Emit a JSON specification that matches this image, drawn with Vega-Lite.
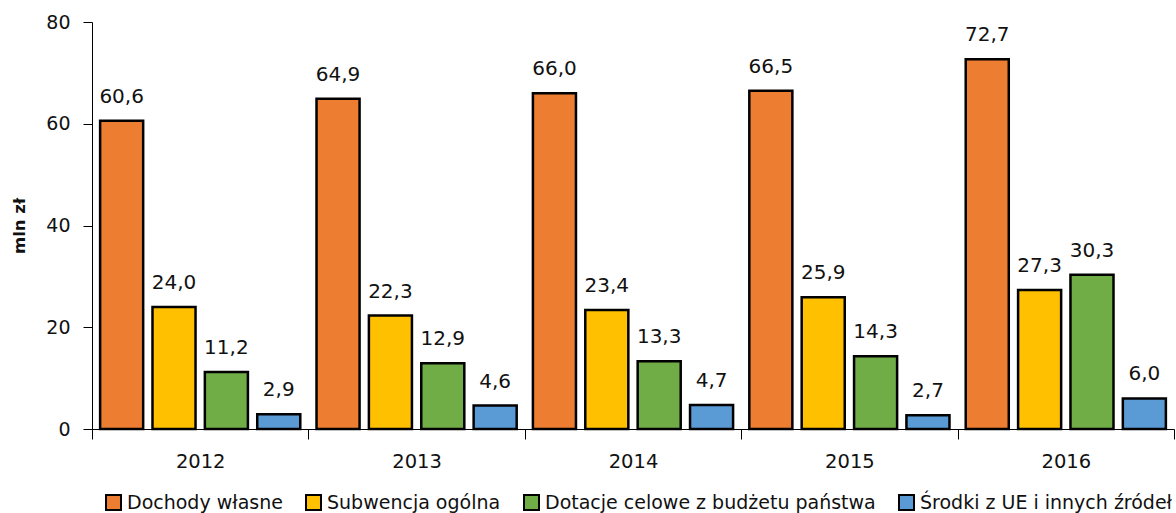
{
  "$schema": "https://vega.github.io/schema/vega-lite/v6.json",
  "width": 1082,
  "height": 407,
  "autosize": {"type": "none"},
  "padding": {"left": 92, "top": 22, "right": 2, "bottom": 84},
  "config": {
    "view": {"stroke": null},
    "font": "DejaVu Sans",
    "locale": {"number": {"decimal": ",", "thousands": " ", "grouping": [3], "currency": ["", " zł"]}}
  },
  "data": {
    "values": [
      {"year": "2012", "series": "Dochody własne", "value": 60.6},
      {"year": "2012", "series": "Subwencja ogólna", "value": 24.0},
      {"year": "2012", "series": "Dotacje celowe z budżetu państwa", "value": 11.2},
      {"year": "2012", "series": "Środki z UE i innych źródeł", "value": 2.9},
      {"year": "2013", "series": "Dochody własne", "value": 64.9},
      {"year": "2013", "series": "Subwencja ogólna", "value": 22.3},
      {"year": "2013", "series": "Dotacje celowe z budżetu państwa", "value": 12.9},
      {"year": "2013", "series": "Środki z UE i innych źródeł", "value": 4.6},
      {"year": "2014", "series": "Dochody własne", "value": 66.0},
      {"year": "2014", "series": "Subwencja ogólna", "value": 23.4},
      {"year": "2014", "series": "Dotacje celowe z budżetu państwa", "value": 13.3},
      {"year": "2014", "series": "Środki z UE i innych źródeł", "value": 4.7},
      {"year": "2015", "series": "Dochody własne", "value": 66.5},
      {"year": "2015", "series": "Subwencja ogólna", "value": 25.9},
      {"year": "2015", "series": "Dotacje celowe z budżetu państwa", "value": 14.3},
      {"year": "2015", "series": "Środki z UE i innych źródeł", "value": 2.7},
      {"year": "2016", "series": "Dochody własne", "value": 72.7},
      {"year": "2016", "series": "Subwencja ogólna", "value": 27.3},
      {"year": "2016", "series": "Dotacje celowe z budżetu państwa", "value": 30.3},
      {"year": "2016", "series": "Środki z UE i innych źródeł", "value": 6.0}
    ]
  },
  "encoding": {
    "x": {
      "field": "year", "type": "nominal",
      "scale": {"paddingInner": 0, "paddingOuter": 0},
      "axis": {
        "title": null, "labelAngle": 0, "tickBand": "extent",
        "domainColor": "black", "tickColor": "black", "tickSize": 10,
        "labelFontSize": 19.5, "labelColor": "#111", "labelPadding": 13,
        "labelFont": "DejaVu Sans"
      }
    },
    "xOffset": {
      "field": "series",
      "sort": ["Dochody własne", "Subwencja ogólna", "Dotacje celowe z budżetu państwa", "Środki z UE i innych źródeł"],
      "scale": {"paddingInner": 0.178, "paddingOuter": 0.155}
    },
    "y": {
      "field": "value", "type": "quantitative",
      "scale": {"domain": [0, 80]},
      "axis": {
        "title": "mln zł", "titleFontSize": 16.5, "titleFontWeight": "bold", "titleColor": "#111",
        "titlePadding": 18, "titleFont": "DejaVu Sans",
        "values": [0, 20, 40, 60, 80], "grid": false,
        "domainColor": "black", "tickColor": "black", "tickSize": 9,
        "labelFontSize": 19, "labelColor": "#111", "labelPadding": 13, "labelFont": "DejaVu Sans"
      }
    }
  },
  "layer": [
    {
      "mark": {"type": "bar", "stroke": "black", "strokeWidth": 2.5},
      "encoding": {
        "color": {
          "field": "series", "type": "nominal",
          "sort": ["Dochody własne", "Subwencja ogólna", "Dotacje celowe z budżetu państwa", "Środki z UE i innych źródeł"],
          "scale": {
            "domain": ["Dochody własne", "Subwencja ogólna", "Dotacje celowe z budżetu państwa", "Środki z UE i innych źródeł"],
            "range": ["#ED7D31", "#FFC000", "#70AD47", "#5B9BD5"]
          },
          "legend": {
            "title": null, "orient": "none", "direction": "horizontal",
            "legendX": 12, "legendY": 471,
            "symbolType": "square", "symbolSize": 225, "symbolStrokeColor": "black",
            "symbolStrokeWidth": 2, "symbolOpacity": 1,
            "labelFontSize": 19, "labelColor": "#111", "labelFont": "DejaVu Sans",
            "labelOffset": 4, "columnPadding": 19, "labelLimit": 500
          }
        }
      }
    },
    {
      "mark": {"type": "text", "baseline": "alphabetic", "dy": -18, "fontSize": 20, "color": "#111", "font": "DejaVu Sans"},
      "encoding": {
        "text": {"field": "value", "type": "quantitative", "format": ".1f"}
      }
    }
  ]
}
